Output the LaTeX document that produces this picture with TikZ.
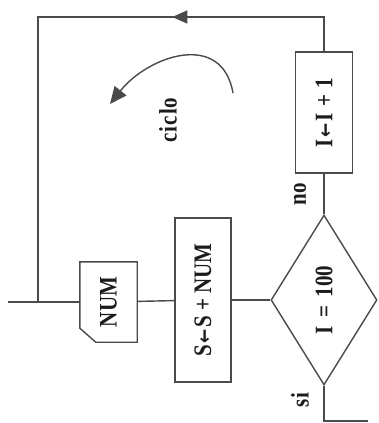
\documentclass[tikz,border=0pt]{standalone}
\usepackage{fontspec}
\setmainfont{Liberation Serif}
\newfontfamily\arrowfont{DejaVu Sans}
\usetikzlibrary{shapes.geometric,arrows.meta,decorations.markings}
\definecolor{ink}{HTML}{4A4A4A}
\definecolor{txt}{HTML}{1C1C1C}
% upright text turned to run bottom to top, a little taller than wide
\newcommand{\upText}[1]{\rotatebox{90}{\scalebox{1}[1.2]{#1}}}
\newcommand{\assignArrow}{\hspace{0.08em}{\arrowfont\bfseries\fontsize{17}{20}\selectfont ←}\hspace{0.08em}}
\begin{document}
\begin{tikzpicture}[x=1pt,y=1pt,
  flow/.style={draw=ink, line width=1.4pt},
  box/.style={draw=ink, line width=1.4pt, inner sep=0pt, text=txt,
    font=\bfseries\fontsize{21}{24}\selectfont},
  lbl/.style={text=txt, inner sep=0pt, font=\bfseries\fontsize{21}{24}\selectfont}]
\useasboundingbox (0,0) rectangle (379,-423);

% process steps and the test
\node[box, minimum width=57pt, minimum height=121pt] (inc) at (324,-112.5)
  {\upText{I\assignArrow I\hspace{0.3em}+\hspace{0.3em}1}};
\node[box, diamond, minimum width=106pt, minimum height=170pt] (test) at (324,-300)
  {\upText{I\hspace{0.4em}=\hspace{0.4em}100}};
\node[box, minimum width=56pt, minimum height=164pt] (acc) at (203,-300)
  {\upText{S\assignArrow S\hspace{0.25em}+\hspace{0.25em}NUM}};
\node[lbl, minimum width=57pt, minimum height=80pt] (inp) at (108.5,-302)
  {\upText{NUM}};
% input card with its clipped corner
\draw[flow] (inp.north west) -- (inp.north east) -- (inp.south east)
  -- ([xshift=16pt]inp.south west) -- ([yshift=14pt]inp.south west) -- cycle;

% free ends and loop corners
\coordinate (entry) at (8,-302);
\coordinate (join) at (38,-302);
\coordinate (topleft) at (38,-17);
\coordinate (exit) at (368,-421);

% main flow
\draw[flow] (entry) -- (inp);
\draw[flow] (inp) -- (acc);
\draw[flow] (acc) -- (test);
\draw[flow] (test) -- node[lbl, pos=0.5, xshift=-24pt] (no) {\upText{no}} (inc);
\draw[flow] (test) |- (exit);
\node[lbl] (si) at (300,-400) {\upText{si}};

% loop back to the entry line
\draw[flow, postaction={decorate}, decoration={markings,
    mark=at position 186pt with {\arrow{Triangle[length=15pt,width=13pt]}}}]
  (inc) |- (topleft) -- (join);

% loop marker
\draw[flow, -{Triangle[length=17pt,width=15pt]}]
  (233,-93) .. controls (222,-30) and (148,-56) .. (110,-104);
\node[lbl] (ciclo) at (168,-120)
  {\upText{c\kern0.04em i\kern0.04em c\kern0.06em l\kern0.04em o}};
\end{tikzpicture}
\end{document}
